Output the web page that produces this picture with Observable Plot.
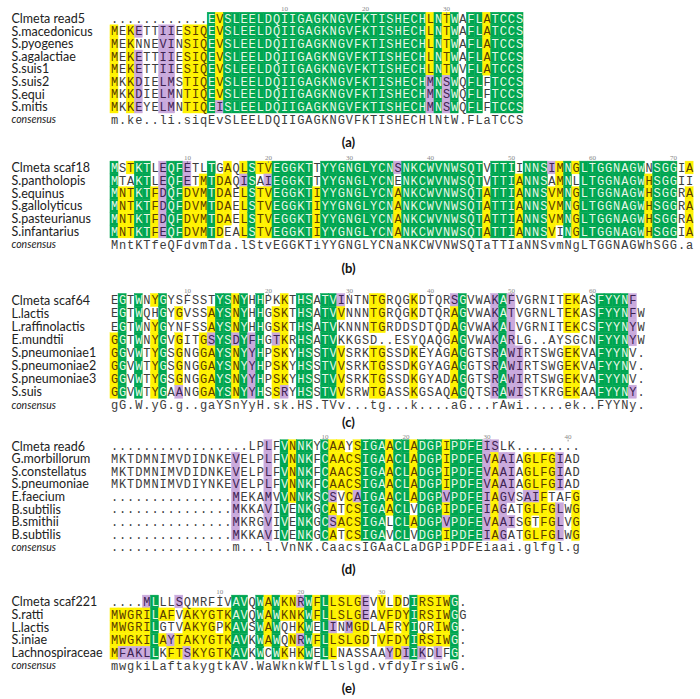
<!DOCTYPE html>
<html><head><meta charset="utf-8">
<script src="https://cdn.jsdelivr.net/npm/d3@7"></script>
<script src="https://cdn.jsdelivr.net/npm/@observablehq/plot@0.6"></script>
<style>body{margin:0;background:#fff}#chart{width:700px;height:699px}</style>
</head><body><div id="chart"></div>
<script>
// ---------- (a) ----------
const aNames = ["Clmeta read5","S.macedonicus","S.pyogenes","S.agalactiae","S.suis1","S.suis2","S.equi","S.mitis"];
const aSeqs = [
"............EVSLEELDQIIGAGKNGVFKTISHECHLNTWAFLATCCS",
"MEKETTIIESIQEVSLEELDQIIGAGKNGVFKTISHECHLNTWAFLATCCS",
"MEKNNEVINSIQEVSLEELDQIIGAGKNGVFKTISHECHLNTWAFLATCCS",
"MEKETTIIESIQEVSLEELDQIIGAGKNGVFKTISHECHLNTWAFLATCCS",
"MEKETTIIESIQEVSLEELDQIIGAGKNGVFKTISHECHLNTWVFLATCCS",
"MKKDIELMSTIQEVSLEELDQIIGAGKNGVFKTISHECHMNSWQFLFTCCS",
"MKKDIELMNTIQEVSLEELDQIIGAGKNGVFKTISHECHMNSWQFLFTCCS",
"MKKEYELMNTIQEISLEELDQIIGAGKNGVFKTISHECHMNSWQFLFTCCS"];
const aConsensus = "m.ke..li.siqEvSLEELDQIIGAGKNGVFKTISHECHlNtW.FLaTCCS";
// conservation class per residue: g = identical, y = high, p = similar, . = none
const aShade = [
"............gy"+"ggggggggggggggggggggggggg"+"ygyg.ggygggg",
"y.yp..pp.yyygy"+"ggggggggggggggggggggggggg"+"ygyg.ggygggg",
"y.y...pp.yyygy"+"ggggggggggggggggggggggggg"+"ygyg.ggygggg",
"y.yp..pp.yyygy"+"ggggggggggggggggggggggggg"+"ygyg.ggygggg",
"y.yp..pp.yyygy"+"ggggggggggggggggggggggggg"+"ygyg.ggygggg",
"y.yp..pp.yyygy"+"ggggggggggggggggggggggggg"+"pgpg.gg.gggg",
"y.yp..pp.yyygy"+"ggggggggggggggggggggggggg"+"pgpg.gg.gggg",
"y.yp..pp.yyygp"+"ggggggggggggggggggggggggg"+"pgpg.gg.gggg"];
const aRulerCols = [21,31,41];
const aRulerLabels = ["10","20","30"];

// ---------- (b) ----------
const bNames = ["Clmeta scaf18","S.pantholopis","S.equinus","S.gallolyticus","S.pasteurianus","S.infantarius"];
const bSeqs = [
"MSTKTLEQFETLTGAQLSTVEGGKTTYYGNGLYCNSNKCWVNWSQTVTTIINNSIMNGLTGGNAGWNSGGIA",
"MTAKTLEQFETMTDAQISAIEGGKTTYYGNGLYCNENKCWVNWSQTVTTIANNSAMNLLTGGNAGWHSGGII",
"MNTKTFDQFDVMTDAELSTVEGGKTIYYGNGLYCNANKCWVNWSQTATTIANNSVMNGLTGGNAGWHSGGRA",
"MNTKTFDQFDVMTDAELSTVEGGKTIYYGNGLYCNANKCWVNWSQTATTIANNSVMNGLTGGNAGWHSGGRA",
"MNTKTFDQFDVMTDAELSTVEGGKTIYYGNGLYCNANKCWVNWSQTATTIANNSVMNGLTGGNAGWHSGGRA",
"MNTKTFEQFDVMTDEALSTVEGGKTIYYGNGLYCNANKCWVNWSQTATTIANNSVINGLTGGNAGWHSGGIA"];
const bConsensus = "MntKTfeQFdvmTda.lStvEGGKTiYYGNGLYCNaNKCWVNWSQTaTTIaNNSvmNgLTGGNAGWhSGG.a";
const bShade = [
"g.ygg.pggp"+"..g.y.ygyy"+"ggggg.gggg"+"gggggpgggg"+"gggggg.ggg"+".gggpygygg"+"gggggg.ggg"+".y",
"g..gg.pggp"+".ygyy.pg.p"+"ggggg.gggg"+"ggggg.gggg"+"gggggg.ggg"+"yggg.yg.gg"+"ggggggyggg"+"..",
"gyyggypggy"+"yygyy.ygyy"+"gggggygggg"+"gggggygggg"+"ggggggyggg"+"ygggyygygg"+"ggggggyggg"+".y",
"gyyggypggy"+"yygyy.ygyy"+"gggggygggg"+"gggggygggg"+"ggggggyggg"+"ygggyygygg"+"ggggggyggg"+".y",
"gyyggypggy"+"yygyy.ygyy"+"gggggygggg"+"gggggygggg"+"ggggggyggg"+"ygggyygygg"+"ggggggyggg"+".y",
"gyyggypggy"+"yygy..ygyy"+"gggggygggg"+"gggggygggg"+"ggggggyggg"+"ygggy.gygg"+"ggggggyggg"+".y"];
const bRulerCols = [9,19,29,39,49,59,69];
const bRulerLabels = ["10","20","30","40","50","60","70"];

// ---------- (c) ----------
const cNames = ["Clmeta scaf64","L.lactis","L.raffinolactis","E.mundtii","S.pneumoniae1","S.pneumoniae2","S.pneumoniae3","S.suis"];
const cSeqs = [
"EGTWNYGYSFSSTYSNYHHPKKTHSATVINTNTGRQGKDTQRSGVWAKAFVGRNITEKASFYYNF",
"EGTWQHGYGVSSAYSNYHHGSKTHSATVVNNNTGRQGKDTQRAGVWAKATVGRNLTEKASFYYNFW",
"EGTWNYGYNFSSAYSNYHHGSKTHSATVKNNNTGRDDSDTQDAGVWAKALVGRNITEKCSFYYNYW",
"GGTWNYGVGITGSYSDYFHGTKRHSATVKKGSD..ESYQAQGAGVWAKARLG..AYSGCNFYYNYW",
"GGVWTYGSGNGGAYSNYYHPSKYHSSTVVSRKTGSSDKEYAGAGGTSRAWIRTSWGEKVAFYYNV.",
"GGVWTYGSGNGGAYSNYYHPSKYHSSTVVSRKTGSSDKGYAGAGGTSRAWIRTSWGEKVAFYYNV.",
"GGVWTYGSGNGGAYSNYYHPSKYHSSTVVSRKTGSSDKGYADAGGTSRAWIRTSWGEKVAFYYNV.",
"GGVWTYGAANGGAYSNYYHSSRYHSSTVVSRWTGASSKGSAQAGQTSRAWISTKRGEKAAFYYNY."];
const cConsensus = "gG.W.yG.g..gaYSnYyH.sk.HS.TVv...tg...k....aG...rAwi.....ek..FYYNy.";
const cShade = [
".g.g.yg..."+"...ggyg.g."+".y.gg.ggp."+"..yy...y.."+"..pg...pgp"+"......yy.."+"ggggp.",
".g.g..g.y."+"..yggyg.g."+"yy.gg.ggy."+"..yy...y.."+"..yg...pgp"+"......yy.."+"ggggp.",
".g.g.yg..."+"..yggyg.g."+"yy.gg.gg.."+"..yy......"+"..yg...pgp"+"......yy.."+"ggggp.",
"yg.g.yg.y."+".ypggpgpg."+"py.gg.gg.."+".........."+"..yg...pgp"+".........."+"ggggp.",
"yg.g.yg.y."+".yyggygpg."+"yy.gg.ggy."+"..yy...y.."+"..yg...pgp"+"p.....yy.."+"gggg..",
"yg.g.yg.y."+".yyggygpg."+"yy.gg.ggy."+"..yy...y.."+"..yg...pgp"+"p.....yy.."+"gggg..",
"yg.g.yg.y."+".yyggygpg."+"yy.gg.ggy."+"..yy...y.."+"..yg...pgp"+"p.....yy.."+"gggg..",
"yg.g.yg.p."+".yyggygpg."+"yp.gg.ggy."+"..yy...y.."+"..yg...pgp"+"p.....yy.."+"ggggp."];
const cRulerCols = [9,19,29,39,49,59];
const cRulerLabels = ["10","20","30","40","50","60"];

// ---------- (d) ----------
const dNames = ["Clmeta read6","G.morbillorum","S.constellatus","S.pneumoniae","E.faecium","B.subtilis","B.smithii","B.subtilis"];
const dSeqs = [
".................LPLFVNNKYCAAYSIGAACLADGPIPDFEISLK........",
"MKTDMNIMVDIDNKEVELPLFVNNKFCAACSIGAACLADGPIPDFEVAAIAGLFGIAD",
"MKTDMNIMVDIDNKEVELPLFVNNKFCAACSIGAACLADGPIPDFEVAAIAGLFGIAD",
"MKTDMNIMVDIYNKEVELPLFVNNKFCAACSIGAACLADGPIPDFEVAAIAGLFGIAD",
"...............MEKAMVVNNKSCSVCAIGAACLADGPVPDFEIAGVSAIFTAFG",
"...............MKKAVIVENKGCATCSIGAACLVDGPIPDFEIAGATGLFGLWG",
"...............MKRGVIVENKGCSACSIGALCLADGPVPDFEVAAISGTFGLVG",
"...............MKKAVIVENKGCATCSIGAVCLVDGPIPDFEIAGATGLFGLWG"];
const dConsensus = "...............m...l.VnNK.CaacsIGAaCLaDGPiPDFEiaai.glfgl.g";
const dShade = [
".........."+".........p"+".gygg.gyy."+"ygggyggygg"+"gyggggpp.."+"........",
".........."+".....p...p"+".gygg.gyyy"+"ygggyggygg"+"gyggggpypp"+".yyyyp..",
".........."+".....p...p"+".gygg.gyyy"+"ygggyggygg"+"gyggggpypp"+".yyyyp..",
".........."+".....p...p"+".gygg.gyyy"+"ygggyggygg"+"gyggggpypp"+".yyyyp..",
".........."+".....p...p"+".gygg.gp.y"+"pgggyggygg"+"gpggggpypp"+".ppy...y",
".........."+".....p...p"+".g.gg.gy.y"+"ygggygg.gg"+"gyggggpyp."+".yyyyp.y",
".........."+".....p...p"+".g.gg.gpyy"+"yggg.ggygg"+"gpggggpypp"+".y.yyp.y",
".........."+".....p...p"+".g.gg.gy.y"+"yggg.gg.gg"+"gyggggpyp."+".yyyyp.y"];
const dRulerCols = [26,36,46,56];
const dRulerLabels = ["10","20","30","40"];

// ---------- (e) ----------
const eNames = ["Clmeta scaf221","S.ratti","L.lactis","S.iniae","Lachnospiraceae"];
const eSeqs = [
"....MLLLSQMRFIVAVQWAWKNRWFLLSLGEVVLDDIRSIWG.",
"MWGRILAFVAKYGTKAVQWAWKNKWFLLSLGEAVFDYIRSIWGG",
"MWGRILGTVAKYGPKAVSWAWQHKWELINMGDLAFRYIQRIWG.",
"MWGKILAYTAKYGTKAVKWAWQNRWFLLSLGDTVFDYIRSIWG.",
"MFAKLLKFTSKYGTKAVKWCWKHKWELLNASSAAYDIIKDLFG."];
const eConsensus = "mwgkiLaftakygtkAV.WaWknkWfLlslgd.vfdyIrsiwG.";
const eShade = [
"....pg..p."+".....gg.gy"+"gyypgygyyy"+"yp.y.y.gyy"+"yyg.",
"yyyyygyy.y"+"yyyyygg.gy"+"gyyygygyyy"+"yp.yyyygyy"+"yyg.",
"yyyyyg...y"+"yyy.ygg.gy"+"g..yg.gp.p"+"yy..y.yg.."+"yyg.",
"yyyyygypyy"+"yyyyygg.gy"+"g.ypgygyyy"+"yy.yyyygyy"+"yyg.",
"yppppg.yyp"+"yyyyygg.g."+"gy.yg.gy.."+"....pypgp."+"p.g."];
const eRulerCols = [13,23,33];
const eRulerLabels = ["10","20","30"];

const panelLabels = ["(a)","(b)","(c)","(d)","(e)"];

// ---------- layout ----------
const panels = [
  {names:aNames, seqs:aSeqs, shade:aShade, cons:aConsensus, rc:aRulerCols, rl:aRulerLabels, top:18.5, step:12.6, lab:142},
  {names:bNames, seqs:bSeqs, shade:bShade, cons:bConsensus, rc:bRulerCols, rl:bRulerLabels, top:167.5, step:12.8, lab:268},
  {names:cNames, seqs:cSeqs, shade:cShade, cons:cConsensus, rc:cRulerCols, rl:cRulerLabels, top:300, step:13.1, lab:422},
  {names:dNames, seqs:dSeqs, shade:dShade, cons:dConsensus, rc:dRulerCols, rl:dRulerLabels, top:446, step:12.6, lab:569},
  {names:eNames, seqs:eSeqs, shade:eShade, cons:eConsensus, rc:eRulerCols, rl:eRulerLabels, top:601.5, step:12.8, lab:688}
];

const cells = [], nameRows = [], consRows = [], rulers = [], labels = [];
panels.forEach((p, pi) => {
  p.seqs.forEach((s, i) => {
    const y = p.top + i * p.step;
    nameRows.push({name: p.names[i], y});
    for (let j = 0; j < s.length; j++) {
      cells.push({col: j, y, h: p.step, ch: s[j], cls: (p.shade[i] || "")[j] || "."});
    }
  });
  const yc = p.top + p.seqs.length * p.step;
  consRows.push({name: "consensus", y: yc});
  for (let j = 0; j < p.cons.length; j++) cells.push({col: j, y: yc, h: p.step, ch: p.cons[j], cls: "c"});
  p.rc.forEach((c, k) => rulers.push({col: c, y: p.top - 10, ty: p.top, label: p.rl[k]}));
  labels.push({label: panelLabels[pi], y: p.lab});
});

const FILL = {g: "#00a651", y: "#fff200", p: "#c9a9dc"};
const INK = {g: "#e6f7e6", y: "#5a3c00", p: "#3e2352", ".": "#3c3c3c", c: "#3c3c3c"};
const X0 = 114, CW = 8.1;

const chart = Plot.plot({
  width: 700, height: 699, margin: 0,
  x: {domain: [-X0 / CW, (700 - X0) / CW], axis: null},
  y: {domain: [0, 699], range: [0, 699], axis: null},
  color: {type: "identity"},
  marks: [
    Plot.rect(cells.filter(d => FILL[d.cls]), {
      x1: d => d.col - 0.5, x2: d => d.col + 0.5,
      y1: d => d.y - d.h / 2, y2: d => d.y + d.h / 2,
      fill: d => FILL[d.cls], stroke: d => FILL[d.cls], strokeWidth: 0.4
    }),
    Plot.text(cells, {x: "col", y: "y", text: "ch", fill: d => INK[d.cls],
      fontFamily: "Liberation Mono", fontSize: 12, ariaLabel: "seq"}),
    Plot.text(nameRows, {y: "y", text: "name", frameAnchor: "left", dx: 11,
      fontFamily: "Lato", fontSize: 12.5, fill: "#222"}),
    Plot.text(consRows, {y: "y", text: "name", frameAnchor: "left", dx: 11,
      fontFamily: "Lato", fontSize: 10.5, fontStyle: "italic", fill: "#222"}),
    Plot.text(rulers, {x: "col", y: "y", text: "label", fontFamily: "Liberation Serif",
      fontSize: 7, fill: "#888"}),
    Plot.ruleX(rulers, {x: "col", y1: d => d.ty - 6.3, y2: d => d.ty - 4.6, stroke: "#777", strokeWidth: 0.8}),
    Plot.text(labels, {y: "y", text: "label", dx: -2, fontFamily: "Lato", fontWeight: "bold",
      fontSize: 13, fill: "#111"})
  ]
});
document.getElementById("chart").appendChild(chart);
</script>
</body></html>
